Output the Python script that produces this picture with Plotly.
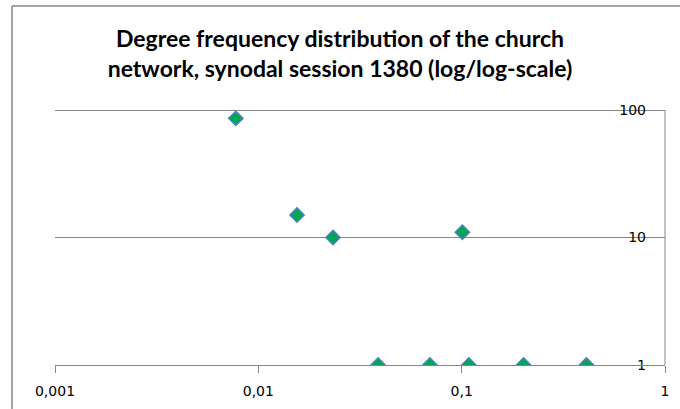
import plotly.graph_objects as go

# Relative degree (share of nodes) and number of nodes with that degree
degree_share = [0.00775, 0.0155, 0.0233, 0.1008, 0.0388, 0.0698, 0.1085, 0.2016, 0.411]
frequency = [86, 15, 10, 11, 1, 1, 1, 1, 1]

x_tick_vals = [0.001, 0.01, 0.1, 1]
x_tick_text = ["0,001", "0,01", "0,1", "1"]
y_tick_vals = [1, 10, 100]
y_tick_text = ["1", "10", "100"]

title_text = ("Degree frequency distribution of the church<br>"
              "network, synodal session 1380 (log/log-scale)")

W, H = 680, 409
L, R, T, B = 55, 15, 109, 44

axis_grey = "#868686"
label_font = dict(family="DejaVu Sans, sans-serif", size=14, color="#000000")

fig = go.Figure()
fig.add_trace(go.Scatter(
    x=degree_share,
    y=frequency,
    mode="markers",
    marker=dict(symbol="diamond", size=11, color="#00A651",
                line=dict(color="#4F81BD", width=1.5)),
    showlegend=False,
    hoverinfo="x+y",
))

fig.update_layout(
    width=W,
    height=H,
    margin=dict(l=L, r=R, t=T, b=B, autoexpand=False),
    paper_bgcolor="white",
    plot_bgcolor="white",
    title=dict(
        text=title_text,
        x=0.5,
        xref="container",
        xanchor="center",
        y=1 - 47 / H,
        yref="container",
        yanchor="middle",
        font=dict(family="Lato, Open Sans, sans-serif", size=23, color="#000000",
                  weight="bold"),
    ),
    xaxis=dict(
        type="log",
        range=[-3, 0],
        tickvals=x_tick_vals,
        ticktext=x_tick_text,
        ticks="outside",
        ticklen=7,
        tickcolor=axis_grey,
        tickwidth=1,
        showline=True,
        linecolor=axis_grey,
        linewidth=1,
        showgrid=False,
        zeroline=False,
        tickfont=label_font,
        ticklabelstandoff=6,
        ticklabeloverflow="allow",
    ),
    yaxis=dict(
        type="log",
        # top slightly above 100 so the 100 gridline is kept inside the plot area
        range=[0, 2.008],
        side="right",
        tickvals=y_tick_vals,
        ticktext=y_tick_text,
        ticks="",
        ticklabelposition="inside",
        ticklabelstandoff=16,
        ticklabeloverflow="allow",
        showline=False,
        showgrid=True,
        gridcolor=axis_grey,
        gridwidth=1,
        zeroline=False,
        tickfont=label_font,
        layer="below traces",
    ),
)

# Chart-area frame: left and top edges
px_x = lambda p: (p - L) / (W - L - R)
px_y = lambda p: (H - B - p) / (H - T - B)
fig.add_shape(type="line", xref="paper", yref="paper",
              x0=px_x(12), x1=px_x(12), y0=px_y(H + 2), y1=px_y(6),
              line=dict(color=axis_grey, width=1.5))
fig.add_shape(type="line", xref="paper", yref="paper",
              x0=px_x(12), x1=px_x(W + 2), y0=px_y(6), y1=px_y(6),
              line=dict(color=axis_grey, width=1.5))
# Vertical value axis on the right, from the 1 line up to the 100 line
fig.add_shape(type="line", xref="paper", yref="y",
              x0=1, x1=1, y0=1, y1=100,
              line=dict(color=axis_grey, width=1), layer="below")

fig.write_html("out.html")
